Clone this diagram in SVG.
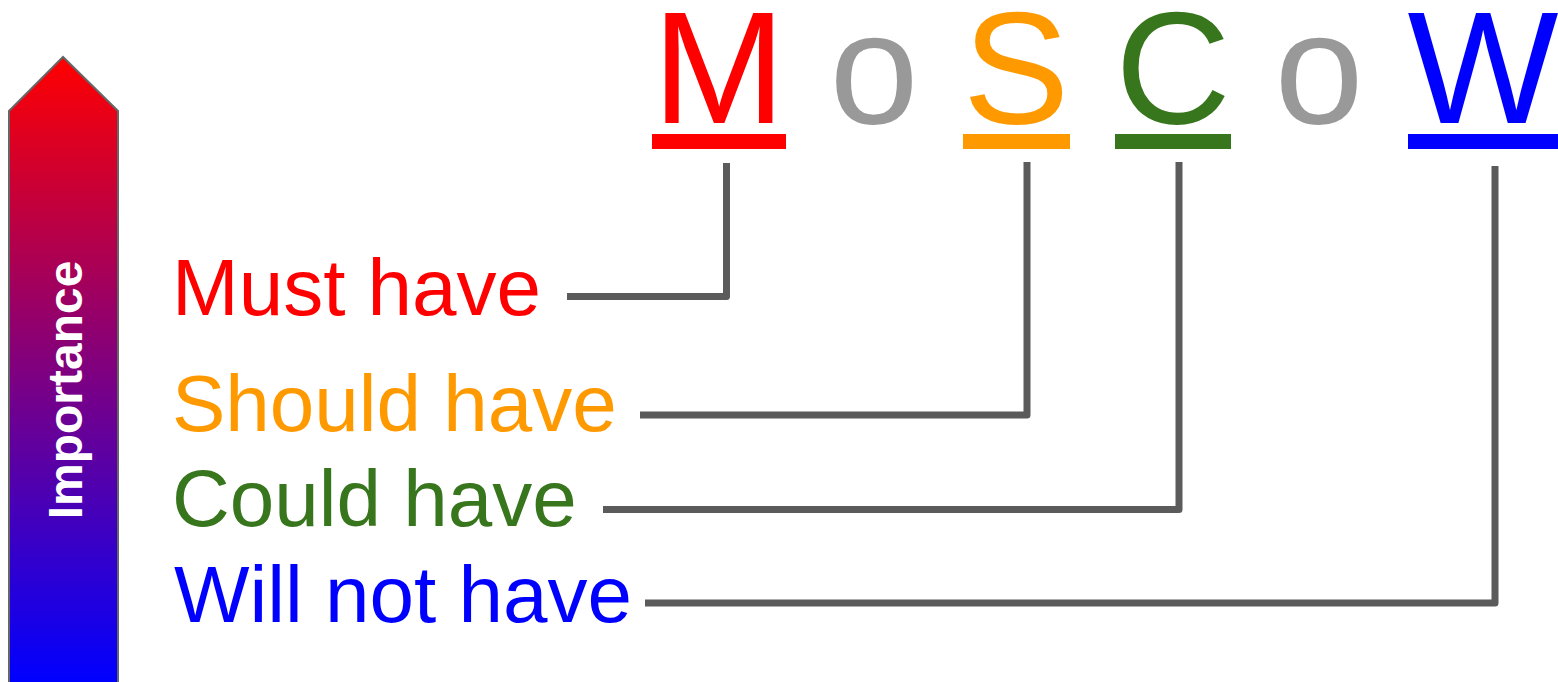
<svg xmlns="http://www.w3.org/2000/svg" width="1558" height="682" viewBox="0 0 1558 682">
<defs>
<linearGradient id="imp" gradientUnits="userSpaceOnUse" x1="0" y1="57" x2="0" y2="682">
<stop offset="0" stop-color="#ff0000"/>
<stop offset="1" stop-color="#0000ff"/>
</linearGradient>
<style>
.big{font-family:"Liberation Sans",Arial,sans-serif;font-size:160px;text-anchor:middle}
.lbl{font-family:"Liberation Sans",Arial,sans-serif;font-size:80px}
.conn{fill:none;stroke:#5b5b5b;stroke-width:7;stroke-linejoin:round;stroke-linecap:butt}
</style>
</defs>
<rect width="1558" height="682" fill="#ffffff"/>
<g id="importance">
<polygon points="9,111 63,57 118,111 118,690 9,690" fill="url(#imp)" stroke="#666666" stroke-width="2"/>
<text transform="translate(82,390) rotate(-90)" x="0" y="0" text-anchor="middle" font-family="Liberation Sans, Arial, sans-serif" font-weight="bold" font-size="48" fill="#ffffff">Importance</text>
</g>
<g id="letter-M">
<text class="big" x="719" y="123" fill="#ff0000">M</text>
<rect x="652" y="134" width="134" height="15" fill="#ff0000"/>
</g>
<g id="letter-o1">
<text class="big" x="874" y="123" fill="#999999">o</text>
</g>
<g id="letter-S">
<text class="big" x="1016" y="123" fill="#ff9900">S</text>
<rect x="963" y="134" width="107" height="15" fill="#ff9900"/>
</g>
<g id="letter-C">
<text class="big" x="1173" y="123" fill="#38761d">C</text>
<rect x="1115" y="134" width="116" height="15" fill="#38761d"/>
</g>
<g id="letter-o2">
<text class="big" x="1319" y="123" fill="#999999">o</text>
</g>
<g id="letter-W">
<text class="big" x="1483" y="123" fill="#0000ff">W</text>
<rect x="1408" y="134" width="150" height="15" fill="#0000ff"/>
</g>
<g id="label-must"><text class="lbl" x="172" y="315" fill="#ff0000">Must have</text></g>
<g id="label-should"><text class="lbl" x="172" y="431" fill="#ff9900">Should have</text></g>
<g id="label-could"><text class="lbl" x="172" y="526" fill="#38761d">Could have</text></g>
<g id="label-will"><text class="lbl" x="174" y="622" fill="#0000ff">Will not have</text></g>
<g id="connectors">
<path class="conn" d="M567,296.5 H726.5 V163"/>
<path class="conn" d="M640,415 H1027 V162"/>
<path class="conn" d="M603,509.5 H1179 V162"/>
<path class="conn" d="M645,603 H1495 V166"/>
</g>
</svg>
